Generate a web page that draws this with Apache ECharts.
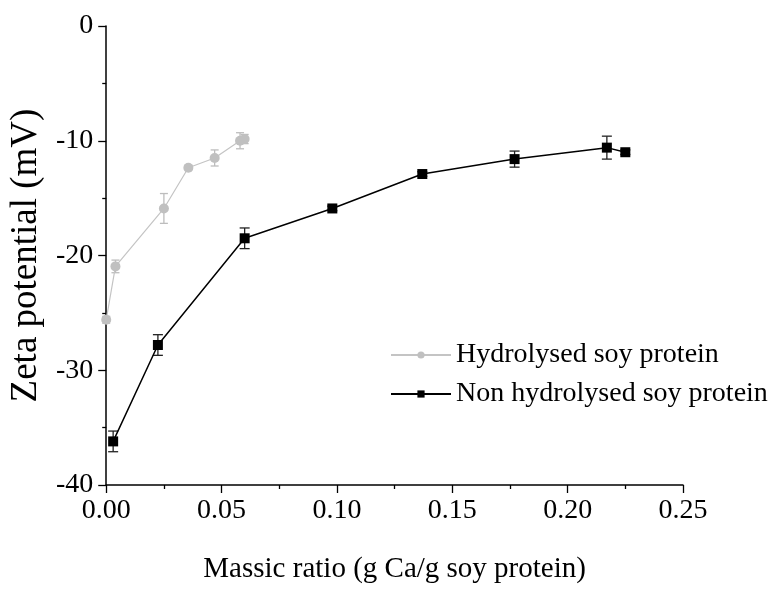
<!DOCTYPE html>
<html>
<head>
<meta charset="utf-8">
<script src="https://cdn.jsdelivr.net/npm/echarts@6/dist/echarts.min.js"></script>
<style>
  html, body { margin: 0; padding: 0; background: #fff; }
  #root { width: 784px; height: 589px; }
</style>
</head>
<body>
<div id="root"></div>
<script>
// values
const hydX = [0.000, 0.004, 0.025, 0.0356, 0.047, 0.058, 0.060];
const hydY = [-25.6, -20.95, -15.9, -12.35, -11.5, -10.0, -9.85];
const hydErr = [0.3, 0.55, 1.3, 0.2, 0.7, 0.7, 0.4];

const nonX = [0.003, 0.0224, 0.060, 0.098, 0.137, 0.177, 0.217, 0.225];
const nonY = [-36.2, -27.8, -18.5, -15.9, -12.9, -11.6, -10.6, -11.0];
const nonErr = [0.9, 0.9, 0.9, 0.2, 0.2, 0.7, 1.0, 0.2];

const FONT = '"Liberation Serif", "Times New Roman", serif';

let myChart = echarts.init(document.getElementById('root'));

function errorBars(xs, ys, errs, color, capW) {
  return {
    type: 'custom',
    silent: true,
    z: 2,
    encode: { x: 0, y: [1, 2] },
    data: xs.map((x, i) => [x, ys[i] - errs[i], ys[i] + errs[i]]),
    renderItem: function (params, api) {
      const lo = api.coord([api.value(0), api.value(1)]);
      const hi = api.coord([api.value(0), api.value(2)]);
      const style = { stroke: color, lineWidth: 1.3 };
      return {
        type: 'group',
        children: [
          { type: 'line', shape: { x1: lo[0], y1: lo[1], x2: hi[0], y2: hi[1] }, style: style },
          { type: 'line', shape: { x1: lo[0] - capW, y1: lo[1], x2: lo[0] + capW, y2: lo[1] }, style: style },
          { type: 'line', shape: { x1: hi[0] - capW, y1: hi[1], x2: hi[0] + capW, y2: hi[1] }, style: style }
        ]
      };
    }
  };
}

let option = {
  animation: false,
  backgroundColor: '#fff',
  grid: { left: 103, right: 101, top: 26, bottom: 93, containLabel: false },
  legend: {
    orient: 'vertical',
    left: 385,
    top: 335,
    itemWidth: 60,
    itemHeight: 9,
    itemGap: 9,
    textStyle: { fontFamily: FONT, fontSize: 28, color: '#000', lineHeight: 30 },
    data: ['Hydrolysed soy protein', 'Non hydrolysed soy protein']
  },
  xAxis: {
    type: 'value',
    min: 0,
    max: 0.25,
    interval: 0.05,
    name: 'Massic ratio (g Ca/g soy protein)',
    nameLocation: 'middle',
    nameGap: 70,
    nameTextStyle: { fontFamily: FONT, fontSize: 29, color: '#000' },
    axisLine: { show: true, onZero: false, lineStyle: { color: '#000', width: 1.5 } },
    axisTick: { show: true, inside: false, length: 8, lineStyle: { color: '#000', width: 1.3 } },
    minorTick: { show: true, splitNumber: 2, length: 4, lineStyle: { color: '#000', width: 1.3 } },
    axisLabel: {
      margin: 12,
      fontFamily: FONT, fontSize: 28, color: '#000',
      formatter: v => v.toFixed(2)
    },
    splitLine: { show: false }
  },
  yAxis: {
    type: 'value',
    min: -40,
    max: 0,
    interval: 10,
    name: 'Zeta potential (mV)',
    nameLocation: 'middle',
    nameGap: 56,
    nameTextStyle: { fontFamily: FONT, fontSize: 37, color: '#000' },
    axisLine: { show: true, onZero: false, lineStyle: { color: '#000', width: 1.5 } },
    axisTick: { show: true, inside: false, length: 8, lineStyle: { color: '#000', width: 1.3 } },
    minorTick: { show: true, splitNumber: 2, length: 4, lineStyle: { color: '#000', width: 1.3 } },
    axisLabel: { margin: 13, fontFamily: FONT, fontSize: 28, color: '#000' },
    splitLine: { show: false }
  },
  series: [
    errorBars(hydX, hydY, hydErr, '#bdbdbd', 4),
    errorBars(nonX, nonY, nonErr, '#222', 5),
    {
      name: 'Hydrolysed soy protein',
      type: 'line',
      z: 3,
      data: hydX.map((x, i) => [x, hydY[i]]),
      symbol: 'circle',
      symbolSize: 10,
      itemStyle: { color: '#c0c0c0' },
      lineStyle: { color: '#c4c4c4', width: 1.2 }
    },
    {
      name: 'Non hydrolysed soy protein',
      type: 'line',
      z: 4,
      data: nonX.map((x, i) => [x, nonY[i]]),
      symbol: 'rect',
      symbolSize: 10,
      itemStyle: { color: '#000' },
      lineStyle: { color: '#000', width: 1.5 }
    }
  ]
};

myChart.setOption(option);
</script>
</body>
</html>
